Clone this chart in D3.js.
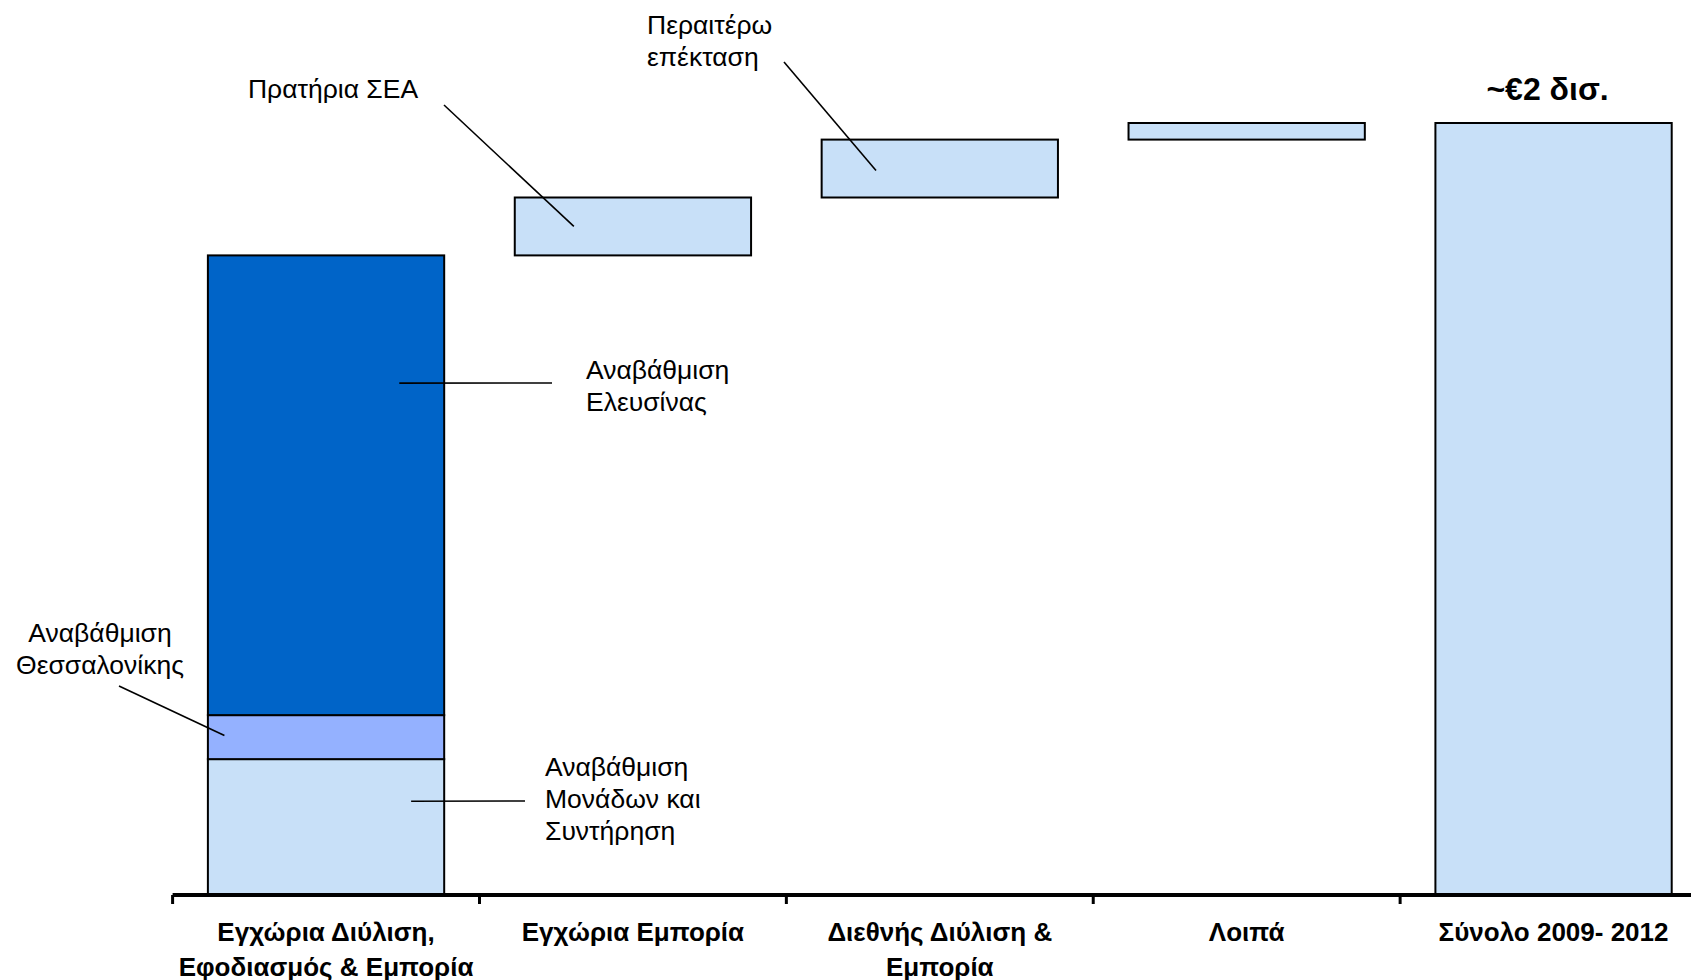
<!DOCTYPE html>
<html>
<head>
<meta charset="utf-8">
<script src="https://cdn.jsdelivr.net/npm/d3@7"></script>
<style>
  html, body { margin: 0; padding: 0; background: #fff; }
  svg { display: block; font-family: "Liberation Sans", Arial, sans-serif; }
</style>
</head>
<body>
<svg id="chart" width="1691" height="980"></svg>
<script>
// Capital expenditure 2009–2012 (million €), waterfall by business area
const categories = ["refining", "retail", "intl", "other", "total"];
const categoryLabels = [
  ["Εγχώρια Διύλιση,", "Εφοδιασμός & Εμπορία"],
  ["Εγχώρια Εμπορία"],
  ["Διεθνής Διύλιση &", "Εμπορία"],
  ["Λοιπά"],
  ["Σύνολο 2009- 2012"]
];

// First column is a stack of three refining projects
const stackNames = ["Αναβάθμιση Μονάδων και Συντήρηση", "Αναβάθμιση Θεσσαλονίκης", "Αναβάθμιση Ελευσίνας"];
const stackValues = [352, 114, 1191];
const stackColors = ["#c8e0f8", "#94b1ff", "#0064c8"];

// Floating increments for the following columns
const stepValues = [150, 150, 43];
const stepColor = "#c8e0f8";

const totalValue = 2000;
const totalLabel = "~€2 δισ.";

const svg = d3.select("#chart");

const x = d3.scaleBand()
  .domain(categories)
  .range([172.6, 1707])
  .paddingInner(0.23)
  .paddingOuter(0.115);

const y = d3.scaleLinear()
  .domain([0, totalValue])
  .range([895, 123]);

// Stacked first column
let acc = 0;
const stackRects = stackValues.map((v, i) => {
  const r = { cat: categories[0], y0: acc, y1: acc + v, color: stackColors[i] };
  acc += v;
  return r;
});
// Waterfall steps
const stepRects = stepValues.map((v, i) => {
  const r = { cat: categories[i + 1], y0: acc, y1: acc + v, color: stepColor };
  acc += v;
  return r;
});
const totalRect = { cat: categories[4], y0: 0, y1: totalValue, color: stepColor };

const allRects = stackRects.concat(stepRects, [totalRect]);

svg.append("g").selectAll("rect")
  .data(allRects)
  .join("rect")
  .attr("x", d => x(d.cat))
  .attr("width", x.bandwidth())
  .attr("y", d => y(d.y1))
  .attr("height", d => y(d.y0) - y(d.y1))
  .attr("fill", d => d.color)
  .attr("stroke", "#000")
  .attr("stroke-width", 2);

// Category axis: baseline with ticks on band boundaries
const step = x.step();
const x0 = x.range()[0];
const axis = svg.append("g");
axis.append("line")
  .attr("x1", x0).attr("x2", x.range()[1])
  .attr("y1", y(0)).attr("y2", y(0))
  .attr("stroke", "#000").attr("stroke-width", 4);
axis.selectAll("line.tick")
  .data(d3.range(categories.length))
  .join("line")
  .attr("class", "tick")
  .attr("x1", i => x0 + i * step).attr("x2", i => x0 + i * step)
  .attr("y1", y(0)).attr("y2", y(0) + 9)
  .attr("stroke", "#000").attr("stroke-width", 3);

const catText = axis.selectAll("text.cat")
  .data(categories)
  .join("text")
  .attr("class", "cat")
  .attr("text-anchor", "middle")
  .attr("font-weight", "bold")
  .attr("font-size", 26)
  .attr("fill", "#000");
catText.each(function(d, i) {
  const t = d3.select(this);
  categoryLabels[i].forEach((line, j) => {
    t.append("tspan")
      .attr("x", x(d) + x.bandwidth() / 2)
      .attr("y", 941 + j * 34.5)
      .text(line);
  });
});

// Total value label
svg.append("text")
  .attr("x", x(categories[4]) + x.bandwidth() / 2 - 6)
  .attr("y", 100)
  .attr("text-anchor", "middle")
  .attr("font-weight", "bold")
  .attr("font-size", 32)
  .text(totalLabel);

// Annotations with leader lines pointing into the bars
const notes = [
  { lines: ["Πρατήρια ΣΕΑ"], tx: 333, ty: 98, anchor: "middle",
    from: [444, 105], cat: categories[1], frac: 0.25, value: 1732 },
  { lines: ["Περαιτέρω", "επέκταση"], tx: 647, ty: 34, anchor: "start",
    from: [784, 62], cat: categories[2], frac: 0.23, value: 1877 },
  { lines: ["Αναβάθμιση", "Ελευσίνας"], tx: 586, ty: 379, anchor: "start",
    from: [552, 383], cat: categories[0], frac: 0.81, value: 1326 },
  { lines: ["Αναβάθμιση", "Θεσσαλονίκης"], tx: 100, ty: 642, anchor: "middle",
    from: [119, 686], cat: categories[0], frac: 0.07, value: 413 },
  { lines: ["Αναβάθμιση", "Μονάδων και", "Συντήρηση"], tx: 545, ty: 776, anchor: "start",
    from: [525, 801], cat: categories[0], frac: 0.86, value: 243 }
];

const noteG = svg.append("g");
noteG.selectAll("line")
  .data(notes)
  .join("line")
  .attr("x1", d => d.from[0]).attr("y1", d => d.from[1])
  .attr("x2", d => x(d.cat) + d.frac * x.bandwidth())
  .attr("y2", d => y(d.value))
  .attr("stroke", "#000").attr("stroke-width", 1.6);

noteG.selectAll("text")
  .data(notes)
  .join("text")
  .attr("text-anchor", d => d.anchor)
  .attr("font-size", 26.5)
  .attr("fill", "#000")
  .each(function(d) {
    const t = d3.select(this);
    d.lines.forEach((line, j) => {
      t.append("tspan").attr("x", d.tx).attr("y", d.ty + j * 32).text(line);
    });
  });
</script>
</body>
</html>
